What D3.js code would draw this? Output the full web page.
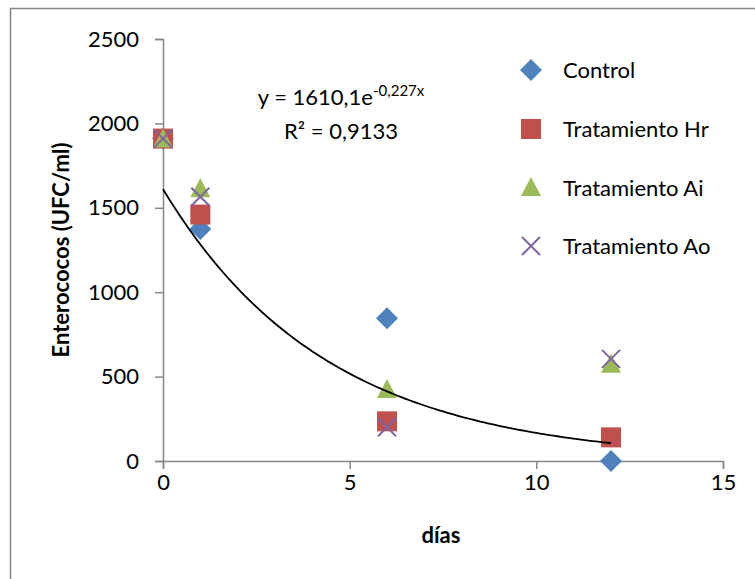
<!DOCTYPE html>
<html><head><meta charset="utf-8">
<script src="https://cdn.jsdelivr.net/npm/d3@7"></script>
<style>body{margin:0;background:#fff}svg{display:block}text{font-family:Lato,"Open Sans",sans-serif}</style>
</head><body>
<svg id="c" width="755" height="579"></svg>
<script>
const days = [0, 1, 6, 12];
const seriesNames = ["Control", "Tratamiento Hr", "Tratamiento Ai", "Tratamiento Ao"];
const control = [1910, 1375, 845, 0];
const tratHr = [1910, 1460, 235, 140];
const tratAi = [1905, 1610, 420, 570];
const tratAo = [1910, 1565, 200, 605];
const xTicks = [0, 5, 10, 15];
const yTicks = [0, 500, 1000, 1500, 2000, 2500];
const trendA = 1610.1, trendB = -0.227;
const colors = ["#4F81BD", "#C0504D", "#9BBB59", "#8064A2"];
const shapes = ["diamond", "square", "triangle", "cross"];
const FS = 22;

const svg = d3.select("#c");
svg.append("rect").attr("x",10.5).attr("y",8.5).attr("width",800).attr("height",700)
  .attr("fill","none").attr("stroke","#868686").attr("stroke-width",1.5);

const x = d3.scaleLinear().domain([0,15]).range([163,723]);
const y = d3.scaleLinear().domain([0,2500]).range([461,39]);

const gx = svg.append("g").attr("transform","translate(0,461)")
  .call(d3.axisBottom(x).tickValues(xTicks).tickSize(8).tickPadding(5).tickFormat(d3.format("d")));
const gy = svg.append("g").attr("transform","translate(163,0)")
  .call(d3.axisLeft(y).tickValues(yTicks).tickSize(8).tickPadding(16).tickFormat(d3.format("d")));
[gx,gy].forEach(g=>{
  g.selectAll("path,line").attr("stroke","#868686").attr("stroke-width",1.5);
  g.selectAll("text").attr("font-size",FS).attr("fill","#000").attr("font-family","Lato,'Open Sans',sans-serif");
});

function drawMarker(g, shape, cx, cy, color){
  if(shape==="diamond"){
    g.append("path").attr("d",`M${cx},${cy-11}L${cx+11},${cy}L${cx},${cy+11}L${cx-11},${cy}Z`).attr("fill",color);
  } else if(shape==="square"){
    g.append("rect").attr("x",cx-10).attr("y",cy-10).attr("width",20).attr("height",20).attr("fill",color);
  } else if(shape==="triangle"){
    g.append("path").attr("d",`M${cx},${cy-11}L${cx+10},${cy+8}L${cx-10},${cy+8}Z`).attr("fill",color);
  } else {
    g.append("path").attr("d",`M${cx-9},${cy-9}L${cx+9},${cy+9}M${cx+9},${cy-9}L${cx-9},${cy+9}`)
      .attr("stroke",color).attr("stroke-width",2).attr("fill","none");
  }
}

const allSeries = [control, tratHr, tratAi, tratAo];
const gm = svg.append("g");
allSeries.forEach((vals,i)=>{
  vals.forEach((v,j)=> drawMarker(gm, shapes[i], x(days[j]), y(v), colors[i]));
});

const trendPts = d3.range(0, 12.001, 0.1).map(t=>[t, trendA*Math.exp(trendB*t)]);
svg.append("path").datum(trendPts)
  .attr("d", d3.line().x(d=>x(d[0])).y(d=>y(d[1])))
  .attr("fill","none").attr("stroke","#000").attr("stroke-width",1.8);

const eq = svg.append("text").attr("x",341).attr("y",105).attr("text-anchor","middle").attr("font-size",FS);
eq.append("tspan").text("y = 1610,1e");
eq.append("tspan").attr("font-size",15).attr("dy",-9).text("-0,227x");
svg.append("text").attr("x",341).attr("y",139).attr("text-anchor","middle").attr("font-size",FS).text("R² = 0,9133");

const legY = [70, 129, 188, 246];
seriesNames.forEach((n,i)=>{
  drawMarker(svg, shapes[i], 531, legY[i], colors[i]);
  svg.append("text").attr("x",563).attr("y",legY[i]+8).attr("font-size",FS).text(n);
});

svg.append("text").attr("x",441).attr("y",543).attr("text-anchor","middle").attr("font-size",FS)
  .attr("font-weight","bold").text("días");
svg.append("text").attr("transform","translate(69,250) rotate(-90)").attr("text-anchor","middle")
  .attr("font-size",FS).attr("font-weight","bold").text("Enterococos (UFC/ml)");
</script>
</body></html>
